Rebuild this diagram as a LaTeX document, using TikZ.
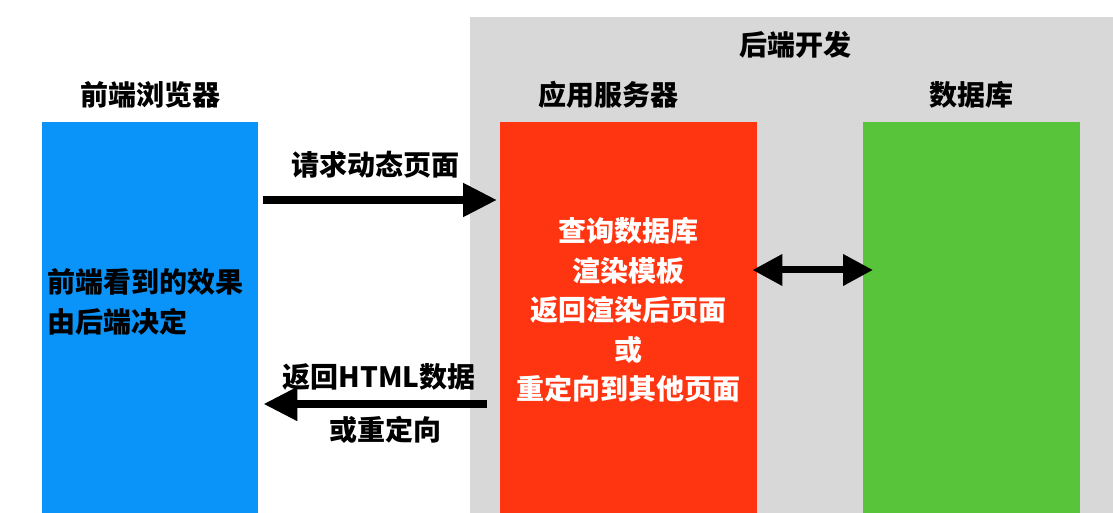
\documentclass[tikz,border=0pt]{standalone}
\usepackage{fontspec}
\setmainfont{Noto Sans CJK SC}
\usetikzlibrary{arrows.meta}
\definecolor{webblue}{HTML}{0A94FA}
\definecolor{srvred}{HTML}{FF3512}
\definecolor{dbgreen}{HTML}{58C43A}
\definecolor{backgray}{HTML}{D8D8D8}

\begin{document}
\begin{tikzpicture}[x=1pt,y=1pt,font=\fontsize{28}{39.5}\selectfont\bfseries,
   box/.style={rectangle,draw=none,inner sep=0pt,anchor=north west,minimum height=391pt},
   ttl/.style={inner sep=0pt,text=black},
   bigarr/.style={line width=8pt,-{Triangle[length=34pt,width=32pt]}},
   dblarr/.style={line width=7pt,{Triangle[length=30pt,width=30pt]}-{Triangle[length=30pt,width=30pt]}}]
\useasboundingbox (0,0) rectangle (1113,513);
\fill[backgray] (470,0) rectangle (1113,496);
\node[box,fill=webblue,minimum width=216pt] (browser) at (42,391) {};
\node[box,fill=srvred,minimum width=257pt] (server) at (500,391) {};
\node[box,fill=dbgreen,minimum width=217pt] (db) at (863,391) {};
\node[ttl] (browsertitle) at (150,418) {前端浏览器};
\node[ttl] (servertitle) at (608,418) {应用服务器};
\node[ttl] (dbtitle) at (971,418) {数据库};
\node[ttl] (backtitle) at (795,468) {后端开发};
\node[ttl,anchor=west,align=left] (browsertext) at (47,211)
   {前端看到的效果\\由后端决定};
\node[ttl,text=white,align=center] (servertext) at (628,203)
   {查询数据库\\渲染模板\\返回渲染后页面\\或\\重定向到其他页面};
\node[ttl] (reqlabel) at (375,348) {请求动态页面};
\node[ttl] (resplabel) at (379,136) {返回HTML数据};
\node[ttl] (redirlabel) at (385,83) {或重定向};
\draw[bigarr] ([xshift=5pt]browser.east |- 0,313) -- ([xshift=-3pt]server.west |- 0,313);
\draw[bigarr] ([xshift=-13pt]server.west |- 0,109) -- ([xshift=5pt]browser.east |- 0,109);
\draw[dblarr] ([xshift=-5pt]server.east |- 0,243) -- ([xshift=10pt]db.west |- 0,243);
\end{tikzpicture}
\end{document}
